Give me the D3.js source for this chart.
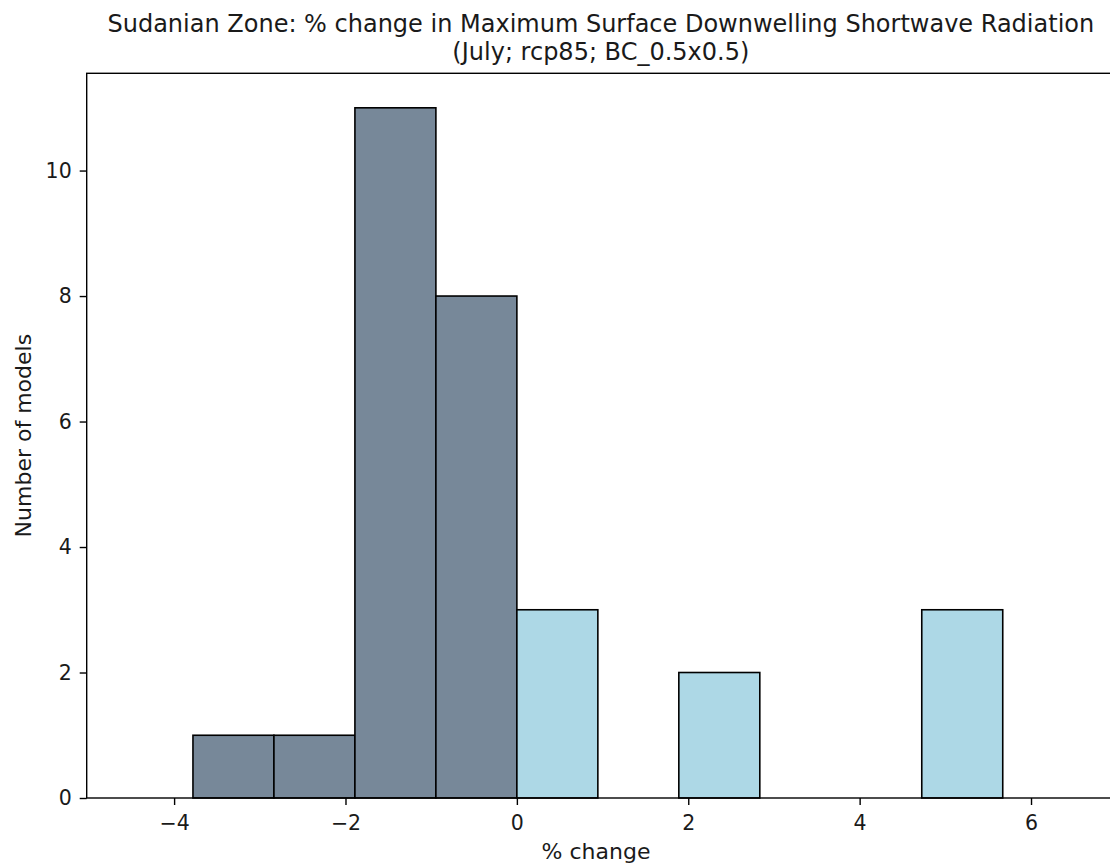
<!DOCTYPE html>
<html>
<head>
<meta charset="utf-8">
<script src="https://cdn.jsdelivr.net/npm/d3@7"></script>
<style>
  html, body { margin: 0; padding: 0; background: #fff; }
  svg { display: block; font-family: "DejaVu Sans", sans-serif; }
</style>
</head>
<body>
<svg id="chart" width="1110" height="865"></svg>
<script>
// Histogram bin edges (% change) and counts (number of models)
const binEdges = [-3.78, -2.835, -1.89, -0.945, 0, 0.945, 1.89, 2.835, 3.78, 4.725, 5.67];
const binCounts = [1, 1, 11, 8, 3, 0, 2, 0, 0, 3];
const xTicks = [-4, -2, 0, 2, 4, 6];
const yTicks = [0, 2, 4, 6, 8, 10];
const titleLines = ["Sudanian Zone: % change in Maximum Surface Downwelling Shortwave Radiation", "(July; rcp85; BC_0.5x0.5)"];
const xLabel = "% change";
const yLabel = "Number of models";

(function () {
const svg = d3.select("#chart");
const mLeft = 86.7, mRight = 1115, mTop = 73.3, mBottom = 798;
const tickFont = 20.5, labelFont = 22, titleFont = 24;

const x = d3.scaleLinear().domain([-5.02, 6.98]).range([mLeft, mRight]);
const y = d3.scaleLinear().domain([0, 11.55]).range([mBottom, mTop]);

const bins = binCounts.map((c, i) => ({ x0: binEdges[i], x1: binEdges[i + 1], count: c }));

svg.append("g").selectAll("rect")
  .data(bins.filter(d => d.count > 0))
  .join("rect")
  .attr("x", d => x(d.x0))
  .attr("y", d => y(d.count))
  .attr("width", d => x(d.x1) - x(d.x0))
  .attr("height", d => y(0) - y(d.count))
  .attr("fill", d => d.x1 <= 0 ? "#778899" : "#ADD8E6")
  .attr("stroke", "#000")
  .attr("stroke-width", 1.6);

// Axes
const xAxis = d3.axisBottom(x).tickValues(xTicks).tickSizeOuter(0).tickSize(7).tickPadding(10)
  .tickFormat(d => d < 0 ? "\u2212" + Math.abs(d) : d);
const gx = svg.append("g").attr("transform", `translate(0,${mBottom})`).call(xAxis);
const yAxis = d3.axisLeft(y).tickValues(yTicks).tickSizeOuter(0).tickSize(7).tickPadding(8);
const gy = svg.append("g").attr("transform", `translate(${mLeft},0)`).call(yAxis);

[gx, gy].forEach(g => {
  g.select(".domain").remove();
  g.selectAll("line").attr("stroke", "#000").attr("stroke-width", 1.4);
  g.selectAll("text").attr("font-size", tickFont).attr("fill", "#1a1a1a").attr("font-family", "DejaVu Sans");
});

// Spines
const spine = svg.append("g").attr("fill", "none").attr("stroke", "#000").attr("stroke-width", 1.4);
spine.append("rect").attr("x", mLeft).attr("y", mTop).attr("width", mRight - mLeft).attr("height", mBottom - mTop);

// Title
svg.append("text").attr("x", (mLeft + mRight) / 2).attr("y", 31.5).attr("text-anchor", "middle")
  .attr("font-size", titleFont).attr("fill", "#1a1a1a").text(titleLines[0]);
svg.append("text").attr("x", (mLeft + mRight) / 2).attr("y", 60).attr("text-anchor", "middle")
  .attr("font-size", titleFont).attr("fill", "#1a1a1a").text(titleLines[1]);

// Axis labels
svg.append("text").attr("x", 596).attr("y", 859).attr("text-anchor", "middle")
  .attr("font-size", labelFont).attr("fill", "#1a1a1a").text(xLabel);
svg.append("text").attr("transform", `translate(31,${(mTop + mBottom) / 2}) rotate(-90)`).attr("text-anchor", "middle")
  .attr("font-size", labelFont).attr("fill", "#1a1a1a").text(yLabel);
})();
</script>
</body>
</html>
